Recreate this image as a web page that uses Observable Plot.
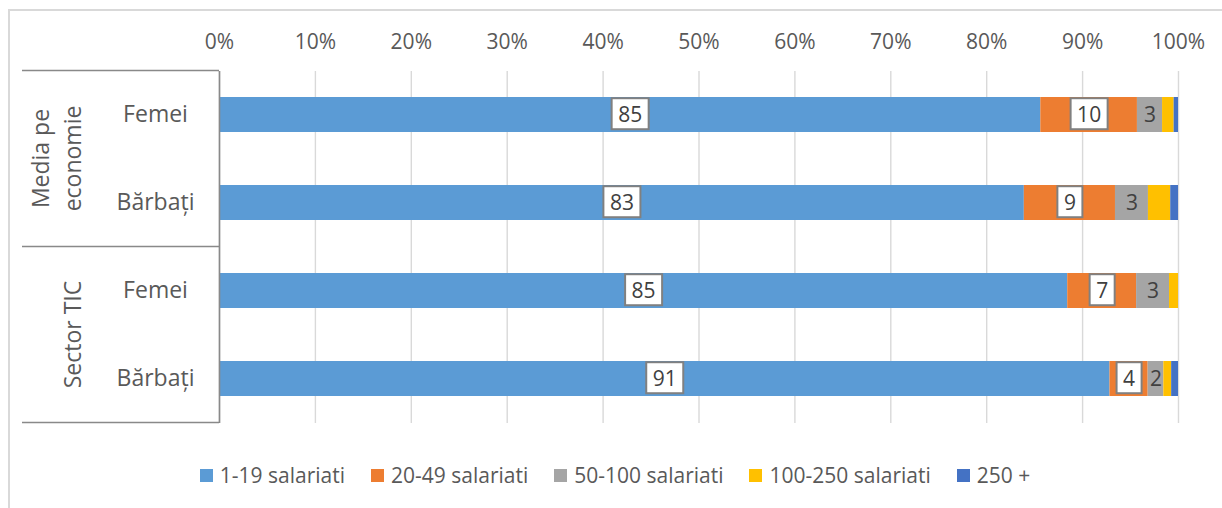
<!DOCTYPE html>
<html>
<head>
<meta charset="utf-8">
<script src="https://cdn.jsdelivr.net/npm/d3@7"></script>
<script src="https://cdn.jsdelivr.net/npm/@observablehq/plot@0.6"></script>
<style>
  html, body { margin: 0; padding: 0; background: #ffffff; }
  #wrap { position: relative; width: 1222px; height: 508px; overflow: hidden; font-family: "Open Sans", sans-serif; }
  #frame { position: absolute; left: 8px; top: 9px; width: 1300px; height: 600px; border-top: 2px solid #d9d9d9; border-left: 2px solid #d9d9d9; pointer-events: none; }
  #chart { position: absolute; left: 0; top: 0; }
  #legend { position: absolute; left: 8px; right: 0; top: 461px; height: 28px; display: flex; justify-content: center; align-items: center; gap: 26px; color: #595959; font-size: 21px; }
  .item { display: flex; align-items: center; gap: 7px; white-space: nowrap; }
  .sw { width: 13px; height: 13px; display: inline-block; }
</style>
</head>
<body>
<div id="wrap">
  <div id="chart"></div>
  <div id="frame"></div>
  <div id="legend"></div>
</div>
<script>
// ---- data ----
const groups = ["Media pe economie", "Media pe economie", "Sector TIC", "Sector TIC"];
const categories = ["Femei", "Bărbați", "Femei", "Bărbați"];
const groupNames = ["Media pe economie", "Sector TIC"];
const groupLines = [["Media pe", "economie"], ["Sector TIC"]];
const series = ["1-19 salariati", "20-49 salariati", "50-100 salariati", "100-250 salariati", "250 +"];
const colors = ["#5b9bd5", "#ed7d31", "#a5a5a5", "#ffc000", "#4472c4"];
const v1_19 = [85, 83, 85, 91];
const v20_49 = [10, 9.4, 6.9, 3.9];
const v50_100 = [2.6, 3.4, 3.3, 1.6];
const v100_250 = [1.2, 2.3, 0.9, 0.8];
const v250 = [0.45, 0.8, 0, 0.7];
const xTicks = [0, 0.1, 0.2, 0.3, 0.4, 0.5, 0.6, 0.7, 0.8, 0.9, 1];
const boxedSeries = ["1-19 salariati", "20-49 salariati"];
const plainSeries = ["50-100 salariati"];

const valuesBySeries = [v1_19, v20_49, v50_100, v100_250, v250];
const rowKeys = groups.map((g, i) => g + "|" + categories[i]);
const data = rowKeys.flatMap((row, i) =>
  series.map((s, j) => ({row, group: groups[i], category: categories[i], series: s, value: valuesBySeries[j][i]}))
);
const fmt = d3.format(".0f");
const stackOpts = {offset: "normalize", order: series, x: "value", y: "row", z: "series"};

const chart = Plot.plot({
  width: 1222,
  height: 440,
  marginLeft: 219,
  marginRight: 44,
  marginTop: 71,
  marginBottom: 17,
  style: {fontFamily: "'Open Sans', sans-serif", color: "#595959", background: "none"},
  x: {domain: [0, 1], axis: null, label: null},
  y: {domain: rowKeys, axis: null, paddingInner: 0.6, paddingOuter: 0.3},
  color: {domain: series, range: colors},
  marks: [
    Plot.gridX(xTicks, {stroke: "#d9d9d9", strokeOpacity: 1, strokeWidth: 1.4}),
    Plot.axisX(xTicks, {anchor: "top", label: null, tickSize: 0, tickPadding: 23, tickFormat: d3.format(".0%"), fontSize: 21, fill: "#595959"}),
    Plot.barX(data, Plot.stackX({...stackOpts, fill: "series"})),
    Plot.ruleX([0], {stroke: "#898989", strokeWidth: 1.6}),
    Plot.text(data, Plot.stackX({...stackOpts, text: d => boxedSeries.includes(d.series) ? fmt(d.value) : null, fill: "#404040", fontSize: 21})),
    Plot.text(data, Plot.stackX({...stackOpts, text: d => plainSeries.includes(d.series) ? fmt(d.value) : null, fill: "#404040", fontSize: 21})),
    Plot.text(rowKeys, {y: d => d, text: (d, i) => categories[i], frameAnchor: "left", dx: -64, textAnchor: "middle", fontSize: 23, fill: "#595959"})
  ]
});
document.getElementById("chart").appendChild(chart);

// boxes behind the boxed labels (first text mark)
const textGroups = chart.querySelectorAll('g[aria-label="text"]');
const boxedGroup = textGroups[0];
if (boxedGroup) {
  Array.from(boxedGroup.querySelectorAll("text")).forEach(function (node) {
    const bb = node.getBBox();
    const cy = bb.y + bb.height / 2;
    const r = document.createElementNS("http://www.w3.org/2000/svg", "rect");
    r.setAttribute("x", bb.x - 6.5);
    r.setAttribute("width", bb.width + 13);
    r.setAttribute("y", cy - 15.5);
    r.setAttribute("height", 31);
    r.setAttribute("fill", "#ffffff");
    r.setAttribute("stroke", "#808080");
    r.setAttribute("stroke-width", 2);
    const t = node.getAttribute("transform");
    if (t) r.setAttribute("transform", t);
    node.parentNode.insertBefore(r, node);
  });
}

// hierarchical group axis
const ys = chart.scale("y");
const pad = (ys.step - ys.bandwidth) / 2;
const g = d3.select(chart).append("g");
const left = 22, right = 219;
const bounds = new Set();
groupNames.forEach((name, gi) => {
  const keys = rowKeys.filter((k, i) => groups[i] === name);
  const top = ys.apply(keys[0]) - pad;
  const bottom = ys.apply(keys[keys.length - 1]) + ys.bandwidth + pad;
  bounds.add(Math.round(top * 10) / 10);
  bounds.add(Math.round(bottom * 10) / 10);
  const lines = groupLines[gi];
  const n = lines.length;
  const t = g.append("text")
    .attr("transform", `translate(72.5,${(top + bottom) / 2}) rotate(-90)`)
    .attr("text-anchor", "middle")
    .attr("font-size", 23)
    .attr("fill", "#595959")
    .attr("font-family", "'Open Sans', sans-serif");
  lines.forEach((ln, i) => {
    t.append("tspan").attr("x", 0).attr("y", (i - (n - 1)) * 31.5).attr("dy", "0.35em").text(ln);
  });
});
bounds.forEach(b => {
  g.append("line").attr("x1", left).attr("x2", right).attr("y1", b).attr("y2", b)
    .attr("stroke", "#898989").attr("stroke-width", 1.6);
});

// legend
const legend = d3.select("#legend");
series.forEach((s, i) => {
  const it = legend.append("div").attr("class", "item");
  it.append("span").attr("class", "sw").style("background", colors[i]);
  it.append("span").text(s);
});
</script>
</body>
</html>
